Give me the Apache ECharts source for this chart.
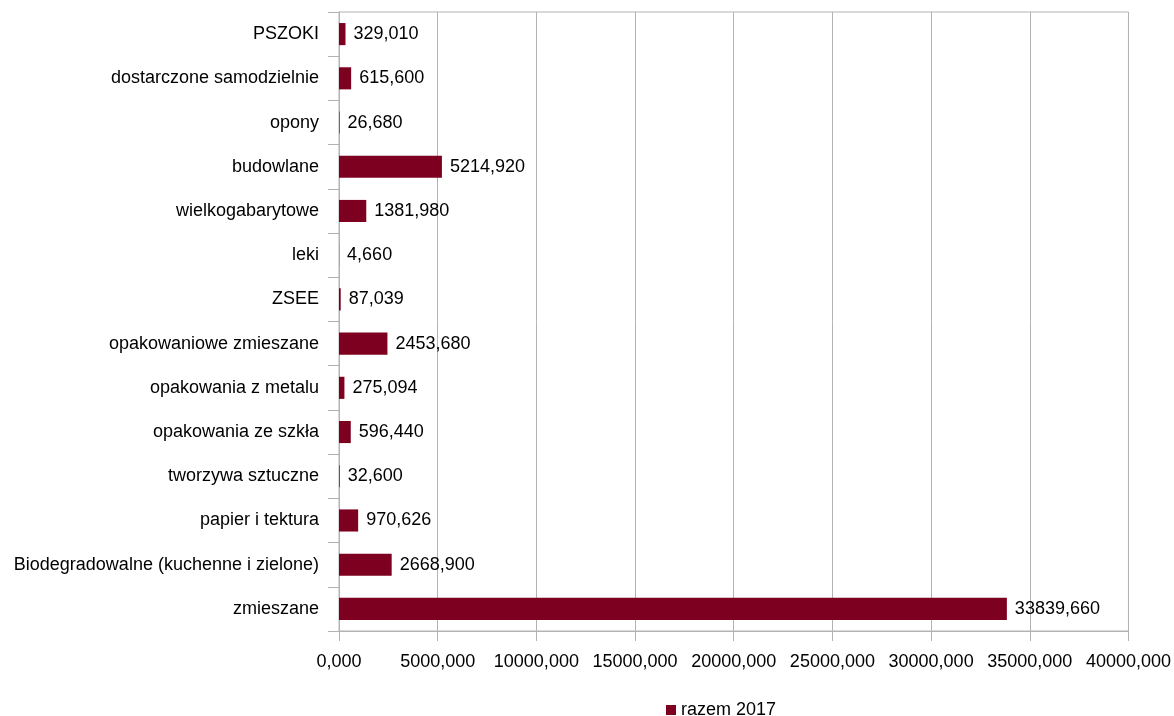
<!DOCTYPE html>
<html><head><meta charset="utf-8">
<script src="https://cdn.jsdelivr.net/npm/echarts@6/dist/echarts.min.js"></script>
<style>html,body{margin:0;padding:0;background:#fff}#c{width:1174px;height:716px}</style>
</head><body><div id="c"></div>
<script>
const categories = ["zmieszane","Biodegradowalne (kuchenne i zielone)","papier i tektura","tworzywa sztuczne","opakowania ze szkła","opakowania z metalu","opakowaniowe zmieszane","ZSEE","leki","wielkogabarytowe","budowlane","opony","dostarczone samodzielnie","PSZOKI"];
const values = [33839.660, 2668.900, 970.626, 32.600, 596.440, 275.094, 2453.680, 87.039, 4.660, 1381.980, 5214.920, 26.680, 615.600, 329.010];
const seriesName = "razem 2017";
const fmt = v => Number(v).toFixed(3).replace('.', ',');
const chart = echarts.init(document.getElementById('c'));
chart.setOption({
  animation:false,
  textStyle:{fontFamily:'Liberation Sans'},
  grid:{left:339,right:45,top:12,bottom:85,show:true,borderColor:'#b3b3b3',borderWidth:1},
  legend:{top:701,left:666,icon:'rect',itemWidth:10,itemHeight:10,itemGap:6,padding:0,
    textStyle:{fontFamily:'Liberation Sans',fontSize:18,color:'#000'},data:[seriesName]},
  xAxis:{type:'value',min:0,max:40000,interval:5000,
    axisLine:{show:true,lineStyle:{color:'#b3b3b3'}},
    axisTick:{show:true,length:10,lineStyle:{color:'#b3b3b3'}},
    splitLine:{show:true,lineStyle:{color:'#b3b3b3'}},
    axisLabel:{margin:22,fontSize:18,color:'#000',fontFamily:'Liberation Sans',formatter:fmt}},
  yAxis:{type:'category',data:categories,
    axisLine:{show:true,lineStyle:{color:'#b3b3b3'}},
    axisTick:{show:true,length:11,lineStyle:{color:'#b3b3b3'}},
    axisLabel:{margin:20,fontSize:18,color:'#000',fontFamily:'Liberation Sans'}},
  series:[{name:seriesName,type:'bar',data:values,barCategoryGap:'50%',
    itemStyle:{color:'#7e0021'},
    label:{show:true,position:'right',distance:8,fontSize:18,color:'#000',fontFamily:'Liberation Sans',
      formatter:p=>fmt(p.value)}}]
});
</script></body></html>
